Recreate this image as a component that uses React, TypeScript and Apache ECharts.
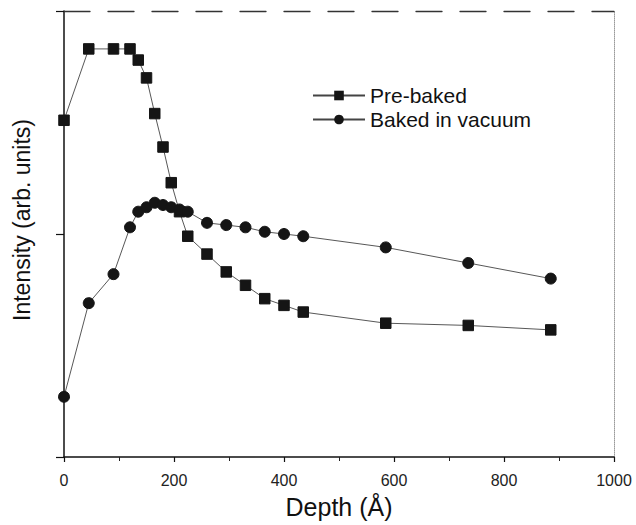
import React, { useEffect, useRef } from "react";
import * as echarts from "echarts";

const depth = [0, 45, 90, 120, 135, 150, 165, 180, 195, 210, 225, 260, 295, 330, 365, 400, 435, 585, 735, 885];
const preBaked = [1.51, 1.83, 1.83, 1.83, 1.78, 1.7, 1.54, 1.39, 1.23, 1.1, 0.99, 0.91, 0.83, 0.77, 0.71, 0.68, 0.65, 0.6, 0.59, 0.57];
const bakedVacuum = [0.27, 0.69, 0.82, 1.03, 1.1, 1.12, 1.14, 1.13, 1.12, 1.11, 1.1, 1.05, 1.04, 1.03, 1.01, 1.0, 0.99, 0.94, 0.87, 0.8];
const seriesNames = ["Pre-baked", "Baked in vacuum"];

const FONT = "'Liberation Sans', Arial, Helvetica, sans-serif";

export default function App() {
  const ref = useRef<HTMLDivElement>(null);
  useEffect(() => {
    if (!ref.current) return;
    const chart = echarts.init(ref.current, undefined, { renderer: "svg" });
    const pairs = (ys: number[]) => depth.map((d, i) => [d, ys[i]]);
    chart.setOption({
      animation: false,
      backgroundColor: "#ffffff",
      grid: { left: 64, right: 22, top: 11, bottom: 68, containLabel: false },
      legend: {
        show: true,
        orient: "vertical",
        left: 307,
        top: 80,
        itemWidth: 52,
        itemHeight: 12,
        itemGap: 3,
        data: seriesNames,
        textStyle: { fontSize: 21, color: "#111", fontFamily: FONT },
      },
      xAxis: [
        {
          type: "value",
          min: 0,
          max: 1000,
          interval: 200,
          position: "bottom",
          name: "Depth (Å)",
          nameLocation: "middle",
          nameGap: 37,
          nameTextStyle: { fontSize: 25, color: "#111", fontFamily: FONT },
          axisLine: { show: true, onZero: false, lineStyle: { color: "#111", width: 1.5 } },
          axisTick: { show: true, inside: false, length: 5, lineStyle: { color: "#111", width: 1.2 } },
          minorTick: { show: true, splitNumber: 2, length: 4, lineStyle: { color: "#222", width: 1 } },
          axisLabel: { fontSize: 16, color: "#222", margin: 15, fontFamily: FONT, formatter: (v: number) => String(v) },
          splitLine: { show: false },
        },
        {
          type: "value",
          min: 0,
          max: 1000,
          position: "top",
          axisLine: { show: true, onZero: false, lineStyle: { color: "#333", width: 1.3, type: [26, 18] } },
          axisTick: { show: false },
          axisLabel: { show: false },
          splitLine: { show: false },
        },
      ],
      yAxis: [
        {
          type: "value",
          min: 0,
          max: 2,
          interval: 1,
          position: "left",
          name: "Intensity (arb. units)",
          nameLocation: "middle",
          nameGap: 31,
          nameTextStyle: { fontSize: 23, color: "#111", fontFamily: FONT, padding: [0, 0, 0, 28] },
          axisLine: { show: true, onZero: false, lineStyle: { color: "#111", width: 1.5 } },
          axisTick: { show: true, inside: false, length: 8, lineStyle: { color: "#111", width: 1.2 } },
          axisLabel: { show: false },
          splitLine: { show: false },
        },
        {
          type: "value",
          min: 0,
          max: 2,
          position: "right",
          axisLine: { show: true, onZero: false, lineStyle: { color: "#9a9a9a", width: 1, type: "dotted" } },
          axisTick: { show: false },
          axisLabel: { show: false },
          splitLine: { show: false },
        },
      ],
      series: [
        {
          name: seriesNames[0],
          type: "line",
          data: pairs(preBaked),
          symbol: "rect",
          symbolSize: 10.5,
          lineStyle: { color: "#444", width: 0.9 },
          itemStyle: { color: "#151515", borderColor: "#151515" },
          emphasis: { disabled: true },
        },
        {
          name: seriesNames[1],
          type: "line",
          data: pairs(bakedVacuum),
          symbol: "circle",
          symbolSize: 11,
          lineStyle: { color: "#444", width: 0.9 },
          itemStyle: { color: "#151515", borderColor: "#151515" },
          emphasis: { disabled: true },
        },
      ],
    });
    return () => chart.dispose();
  }, []);
  return <div ref={ref} style={{ position: "absolute", left: 0, top: 0, width: 636, height: 525 }} />;
}
